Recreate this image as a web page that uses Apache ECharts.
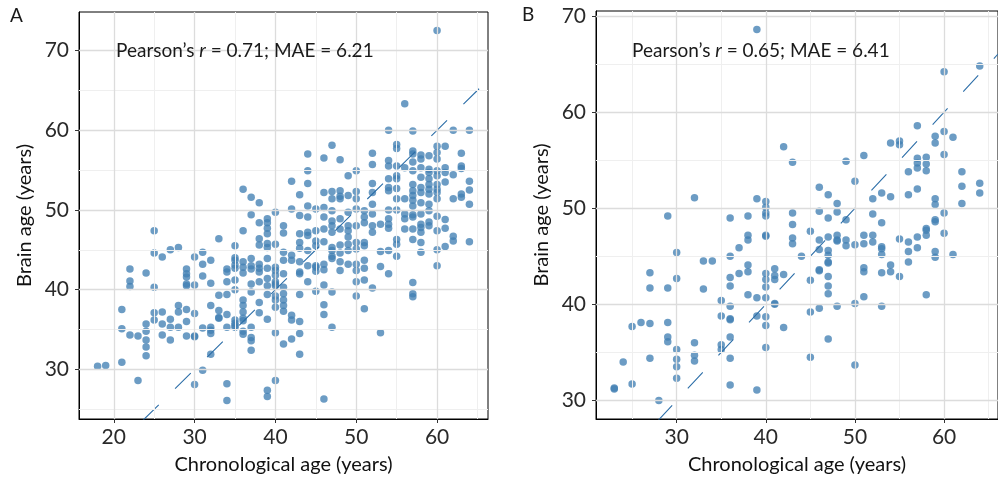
<!DOCTYPE html>
<html><head><meta charset="utf-8">
<script src="https://cdn.jsdelivr.net/npm/echarts@6/dist/echarts.min.js"></script>
<style>html,body{margin:0;padding:0;background:#fff}#c{width:998px;height:480px}</style>
</head><body><div id="c"></div>
<script>
// ---- Panel A data: chronological ages and the brain ages observed at each ----
const agesA = [18,19,21,22,23,24,25,26,27,28,29,30,31,32,33,34,35,36,37,38,39,40,41,42,43,44,45,46,47,48,49,50,51,52,53,54,55,56,57,58,59,60,61,62,63,64];
const brainByAgeA = [
 [30.4],[30.5],[37.5,35.1,30.9],[42.6,41.1,40.4,34.3],[34.2,28.6],
 [42.1,35.7,34.8,33.7,32.8,31.7],[47.4,44.6,40.3,37.1,36.2],[44.1,37.2,35.7,34.3],
 [45.0,36.3,35.3,33.7],[45.3,38.0,37.2,35.3],[42.6,42.0,41.6,40.7,40.5,37.5,36.0,34.2],
 [44.1,40.6,37.0,34.2,34.1,28.1],[44.7,43.2,41.7,35.2,29.9],[43.7,40.8,38.0,35.3,34.9,34.5,31.9],
 [46.4,39.3,37.4,36.5,36.4],[42.6,42.2,41.0,39.4,36.9,35.3,28.2,26.1],
 [45.5,44.0,43.7,43.1,42.7,41.2,40.0,36.2,35.8,35.5,35.3],
 [52.6,47.4,43.5,42.8,42.1,38.7,38.0,37.2,36.4,36.1,34.8,34.4],
 [51.6,49.4,43.9,43.0,42.6,40.7,39.7,35.3,34.0,33.6,32.4],
 [50.9,48.4,46.4,45.6,43.2,42.7,42.2,41.0,38.4,37.1],
 [48.9,48.4,47.7,47.0,45.8,45.3,43.9,42.7,41.4,40.5,39.4,36.3,27.4,26.6],
 [49.7,45.7,42.8,42.4,41.8,41.0,40.7,40.5,39.2,38.7,37.8,34.6,28.6],
 [48.0,47.1,44.7,43.7,42.0,40.3,39.5,38.7,38.0,37.3,33.2],
 [53.6,50.1,44.3,43.7,36.8,36.2,33.8],
 [51.9,49.3,47.0,45.9,45.2,43.5,42.2,42.0,39.4,36.0,34.5,31.9],
 [57.0,54.9,53.3,50.5,49.1,47.2,46.8,44.9,43.0,41.0],
 [50.1,47.4,46.1,45.5,43.0,42.8,42.3,39.8],
 [56.5,52.2,50.3,49.1,47.6,46.0,43.2,42.5,40.6,38.1,36.9,26.3],
 [58.1,52.3,51.4,49.9,48.6,48.0,47.2,45.3,44.9,44.2,43.9,39.7,35.3],
 [56.3,52.4,51.7,51.4,48.9,47.6,45.6,44.6,43.5,42.4],
 [54.3,51.8,49.7,48.0,47.4,46.6,45.7,44.9,43.2],
 [54.9,52.3,51.4,50.1,48.0,45.9,45.1,43.2,42.4,41.0,39.2],
 [49.9,49.1,48.4,45.9,45.5,43.7,42.7,41.2,37.6],
 [57.1,55.7,53.3,52.2,50.7,49.5,48.0,47.2,40.2],
 [48.2,44.8,42.9,34.6],
 [60.0,56.2,55.5,53.9,52.8,52.4,50.0,48.9,48.2,47.7,44.9,42.0],
 [58.2,57.7,55.5,54.3,53.9,52.7,51.4,50.0,46.3,45.7,44.2],
 [63.3,55.3,51.4,49.5,48.9,47.6],
 [59.9,57.4,57.0,56.0,54.9,53.2,52.4,51.8,51.2,50.5,49.4,49.1,47.6,46.3,40.9,39.5,39.1],
 [56.9,56.4,55.3,54.1,52.8,52.2,50.9,49.5,48.2,47.8,47.2,45.9,44.7],
 [56.8,55.1,54.7,53.9,53.2,52.6,52.0,50.7,49.9,48.5,48.0],
 [72.5,58.0,57.2,56.4,54.9,54.3,53.2,52.6,52.2,51.4,49.2,47.4,45.0,43.0],
 [58.0,55.3,54.7,53.5,48.8,47.7,45.4],
 [60.0,54.4,51.4,46.7,46.1],
 [57.1,55.5,55.2,52.0,51.6],
 [60.0,53.6,52.5,50.7,46.0]
];
// ---- Panel B data ----
const agesB = [23,24,25,26,27,28,29,30,32,33,34,35,36,37,38,39,40,41,42,43,44,45,46,47,48,49,50,51,52,53,54,55,56,57,58,59,60,61,62,64];
const brainByAgeB = [
 [31.3,31.2],[34.0],[37.7,31.7],[38.1],[43.3,41.7,38.0,34.4],[30.0],
 [49.2,41.7,38.1,36.6,36.1],[45.4,42.7,35.3,34.3,33.5,32.3],[51.1,36.0,34.7,34.1],
 [44.5,41.6],[44.5],[40.4,38.8,35.8,35.3],
 [49.0,45.0,42.8,41.9,39.8,38.5,38.4,36.6,34.4,31.6],[45.9,43.2],
 [49.2,47.2,46.7,44.1,43.4,41.0],[68.6,51.0,40.7,38.8,31.1],
 [50.7,50.1,49.5,49.2,47.2,47.1,43.2,42.6,41.8,40.7,38.7,37.8,35.5],
 [43.7,43.0,42.6,40.1,40.0],[56.4,43.1,37.6],[54.8,49.5,48.3,46.9,46.3],[45.0],
 [47.6,42.5,39.2,34.5],[52.2,49.7,46.7,45.7,43.6,43.5,39.6],
 [51.4,49.0,47.0,45.6,45.1,44.4,44.3,42.9,41.9,41.1,36.4],
 [50.5,49.6,47.2,46.7,46.6,39.8],[54.9,48.8,46.7,46.1],[52.8,46.2,40.1,33.7],
 [55.5,47.2,46.3,43.8,43.4,40.8],[51.0,49.4,47.2,46.5],
 [51.6,48.5,46.0,45.8,45.2,43.3,39.8],[56.8,51.2,44.1,43.4],[57.0,56.6,46.8,42.9],
 [53.8,51.4,46.5,45.5,44.4],[58.6,55.2,54.7,54.2,52.0,47.0,45.9],
 [55.3,54.6,53.9,47.9,47.7,47.2,41.0],[57.5,56.8,51.0,50.4,48.8,48.6,45.5,44.9],
 [64.2,58.0,55.6,49.5,47.4],[57.4,45.2],[53.8,52.3,50.5],[64.8,52.6,51.6]
];
const statsA = {r:'0.71', mae:'6.21'};
const statsB = {r:'0.65', mae:'6.41'};
const ticksXA = [20,30,40,50,60], minorXA = [25,35,45,55,65];
const ticksYA = [30,40,50,60,70], minorYA = [25,35,45,55,65];
const ticksXB = [30,40,50,60], minorXB = [25,35,45,55,65];
const ticksYB = [30,40,50,60,70], minorYB = [35,45,55,65];

const F = 'Lato';
function flatten(ages, groups){ const p=[]; ages.forEach((a,i)=>groups[i].forEach(v=>p.push([a,v]))); return p; }
function lim(vals){ const mn=Math.min(...vals), mx=Math.max(...vals), r=mx-mn; return [mn-0.05*r, mx+0.05*r]; }

const ptsA = flatten(agesA, brainByAgeA), ptsB = flatten(agesB, brainByAgeB);
const limXA = lim(ptsA.map(p=>p[0])), limYA = lim(ptsA.map(p=>p[1]));
const limXB = lim(ptsB.map(p=>p[0])), limYB = lim(ptsB.map(p=>p[1]));

function axis(gi, l, ticks, name, isY){
  return {
    type:'value', gridIndex:gi, min:l[0], max:l[1],
    name:name, nameLocation:'middle', nameGap: isY?44:36,
    nameTextStyle:{fontFamily:F, fontSize:20, color:'#111'},
    axisLine:{show:true, onZero:false, lineStyle:{color:'#000', width:1}},
    axisTick:{show:true, customValues:ticks, length:4, lineStyle:{color:'#333', width:1}},
    axisLabel:{customValues:ticks, fontFamily:F, fontSize:21, color:'#2a2a2a', margin: isY?10:8, formatter:v=>String(v)},
    splitLine:{show:false}, minorSplitLine:{show:false}
  };
}
function gridLines(gi, mx, my, Mx, My){
  const d=[];
  mx.forEach(v=>d.push({xAxis:v, lineStyle:{color:'#efefef', width:1, type:'solid'}}));
  my.forEach(v=>d.push({yAxis:v, lineStyle:{color:'#efefef', width:1, type:'solid'}}));
  Mx.forEach(v=>d.push({xAxis:v, lineStyle:{color:'#dcdcdc', width:1.3, type:'solid'}}));
  My.forEach(v=>d.push({yAxis:v, lineStyle:{color:'#dcdcdc', width:1.3, type:'solid'}}));
  return {type:'line', xAxisIndex:gi, yAxisIndex:gi, data:[], z:1, silent:true,
    markLine:{silent:true, symbol:['none','none'], label:{show:false}, animation:false, data:d}};
}
function pts(gi, data){
  return {type:'scatter', xAxisIndex:gi, yAxisIndex:gi, data:data, symbolSize:7.5, z:2,
    itemStyle:{color:'#4380b3', opacity:0.78}};
}
function idLine(gi, lx){
  return {type:'line', xAxisIndex:gi, yAxisIndex:gi, data:[[lx[0],lx[0]],[lx[1],lx[1]]], z:3,
    showSymbol:false, clip:true, lineStyle:{color:'#2c6ea8', width:1.1, type:[22,23]}};
}
function label(x, y, s){
  return {type:'text', left:x, top:y, z:100, style:{
    text:'{n|Pearson\u2019s }{i|r}{n| = '+s.r+'; MAE = '+s.mae+'}',
    rich:{n:{fontFamily:F, fontSize:19, fill:'#1a1a1a'}, i:{fontFamily:F, fontSize:19, fontStyle:'italic', fill:'#1a1a1a'}}
  }};
}
const chart = echarts.init(document.getElementById('c'), null, {renderer:'canvas'});
chart.setOption({
  animation:false,
  grid:[
    {left:79, top:12, width:409, height:409, show:true, borderColor:'#000', borderWidth:1},
    {left:596, top:11, width:409, height:408, show:true, borderColor:'#000', borderWidth:1}
  ],
  xAxis:[axis(0, limXA, ticksXA, 'Chronological age (years)', false), axis(1, limXB, ticksXB, 'Chronological age (years)', false)],
  yAxis:[axis(0, limYA, ticksYA, 'Brain age (years)', true), axis(1, limYB, ticksYB, 'Brain age (years)', true)],
  series:[
    gridLines(0, minorXA, minorYA, ticksXA, ticksYA), pts(0, ptsA), idLine(0, limXA),
    gridLines(1, minorXB, minorYB, ticksXB, ticksYB), pts(1, ptsB), idLine(1, limXB)
  ],
  graphic:[
    {type:'text', left:10, top:6, z:100, style:{text:'A', fontFamily:F, fontSize:19, fill:'#1a1a1a'}},
    {type:'text', left:522, top:5, z:100, style:{text:'B', fontFamily:F, fontSize:19, fill:'#1a1a1a'}},
    label(116, 41, statsA), label(632, 41, statsB)
  ]
});
</script></body></html>
